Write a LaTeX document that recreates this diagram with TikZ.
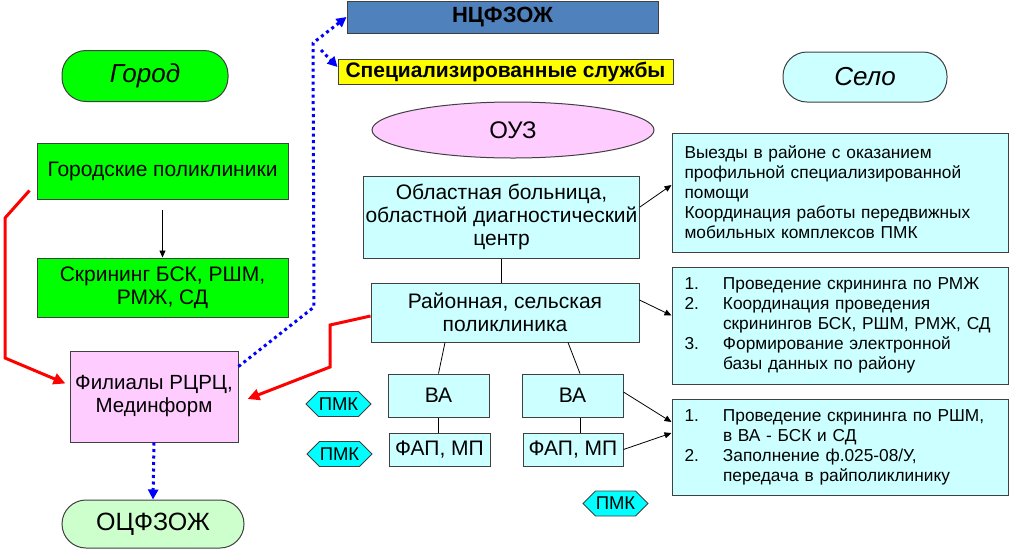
\documentclass[tikz,border=0pt]{standalone}
\usepackage{fontspec}
\setmainfont{Liberation Sans}
\usetikzlibrary{arrows.meta, shapes.geometric, shapes.symbols}

\definecolor{zelen}{RGB}{0,255,0}
\definecolor{svetlozel}{RGB}{204,255,204}
\definecolor{svetlogol}{RGB}{204,255,255}
\definecolor{goluboj}{RGB}{0,255,255}
\definecolor{rozov}{RGB}{255,204,255}
\definecolor{sinij}{RGB}{79,129,189}
\definecolor{zheltyj}{RGB}{255,255,0}

\tikzset{
  blok/.style={draw=black!75, line width=1pt, inner sep=2pt, align=center,
    font=\fontsize{21}{23}\selectfont},
  oval/.style={blok, rounded corners=24pt},
  pmk/.style={draw=black!75, line width=0.8pt, fill=goluboj, signal, signal to=west and east,
    inner sep=0pt, font=\fontsize{18.5}{20}\selectfont},
  spisok/.style={draw=black!75, line width=1pt, fill=svetlogol, text width=311pt,
    inner xsep=12.5pt, align=left, font=\fontsize{17.3}{20}\selectfont},
  strelka/.style={-{Triangle[length=7pt,width=6pt]}, line width=0.8pt},
  krasn/.style={red, line width=3pt, -{Triangle[length=12pt,width=11pt]}},
  punktir/.style={blue, line width=3pt, dash pattern=on 3pt off 3.5pt,
    -{Triangle[length=10pt,width=10pt]}}
}

\begin{document}
\begin{tikzpicture}[x=1pt, y=-1pt]
\useasboundingbox (0,0) rectangle (1010,550);

% verkh
\node[blok, fill=sinij, minimum width=311pt, minimum height=32pt,
  font=\bfseries\fontsize{22}{26}\selectfont] (ncf) at (502.5,17) {НЦФЗОЖ};
\node[blok, fill=zheltyj, minimum width=335pt, minimum height=25pt, inner sep=0pt,
  font=\bfseries\fontsize{21}{24}\selectfont] (spec) at (505.5,72) {Специализированные службы};
\node[oval, fill=zelen, minimum width=166pt, minimum height=51pt,
  font=\itshape\fontsize{26}{30}\selectfont] (gorod) at (145,76) {Город};
\node[oval, fill=svetlogol, minimum width=164pt, minimum height=50pt,
  font=\itshape\fontsize{26}{30}\selectfont] (selo) at (865,77) {Село};
\node[blok, ellipse, fill=rozov, minimum width=282pt, minimum height=56pt, inner sep=0pt,
  font=\fontsize{24}{28}\selectfont] (ouz) at (513,130) {ОУЗ};

% gorod
\node[blok, fill=zelen, minimum width=251pt, minimum height=56pt] (gp) at (162.5,171) {Городские поликлиники};
\node[blok, fill=zelen, minimum width=251pt, minimum height=59pt] (scr) at (162.5,287.5) {Скрининг БСК, РШМ,\\ РМЖ, СД};
\node[blok, fill=rozov, minimum width=168pt, minimum height=91pt,
  font=\fontsize{20.5}{23}\selectfont] (fil) at (154,396.5) {Филиалы РЦРЦ,\\ Мединформ};
\node[oval, fill=svetlozel, minimum width=182pt, minimum height=48pt,
  font=\fontsize{25}{29}\selectfont] (ocf) at (153,524) {ОЦФЗОЖ};

% selo
\node[blok, fill=svetlogol, minimum width=275pt, minimum height=82pt] (obl) at (501.5,217)
  {Областная больница,\\ областной диагностический\\ центр};
\node[blok, fill=svetlogol, minimum width=268pt, minimum height=59pt] (ray) at (505,312.5)
  {Районная, сельская\\ поликлиника};
\node[blok, fill=svetlogol, minimum width=101pt, minimum height=43pt] (va1) at (438.5,395.5) {ВА};
\node[blok, fill=svetlogol, minimum width=101pt, minimum height=33pt] (fap1) at (439.5,449.5) {ФАП, МП};
\node[blok, fill=svetlogol, minimum width=101pt, minimum height=43pt] (va2) at (572.5,395.5) {ВА};
\node[blok, fill=svetlogol, minimum width=100pt, minimum height=33pt] (fap2) at (573,449.5) {ФАП, МП};
\foreach \n/\x/\y in {1/338.5/404, 2/339.5/454, 3/615.5/503.5}
  \node[pmk, minimum width=65pt, minimum height=25pt] (pmk\n) at (\x,\y) {ПМК};

\node[spisok, minimum height=119pt] (opis1) at (840,192.5)
  {Выезды в районе с оказанием\\ профильной специализированной\\ помощи\\
   Координация работы передвижных\\ мобильных комплексов ПМК};
\node[spisok, minimum height=117pt] (opis2) at (840,325.5)
  {\begin{tabular}{@{}p{38.5pt}@{}l@{}}
   1. & Проведение скрининга по РМЖ\\
   2. & Координация проведения\\
      & скринингов БСК, РШМ, РМЖ, СД\\
   3. & Формирование электронной\\
      & базы данных по району
   \end{tabular}};
\node[spisok, minimum height=96pt] (opis3) at (840,447)
  {\begin{tabular}{@{}p{38.5pt}@{}l@{}}
   1. & Проведение скрининга по РШМ,\\
      & в ВА - БСК и СД\\
   2. & Заполнение ф.025-08/У,\\
      & передача в райполиклинику
   \end{tabular}};

% svyazi
\draw[strelka] ([yshift=-10pt]gp.south) -- (scr.north);
\draw[line width=0.8pt] (obl.south) -- (obl.south |- ray.north);
\draw[line width=0.8pt] ([xshift=-60pt]ray.south) -- (va1.north);
\draw[line width=0.8pt] ([xshift=63pt]ray.south) -- ([xshift=7.5pt]va2.north);
\draw[line width=0.8pt] (va1.south) -- (va1.south |- fap1.north);
\draw[line width=0.8pt] ([xshift=7.5pt]va2.south) -- ([xshift=7.5pt]va2.south |- fap2.north);
\draw[strelka] ([yshift=10pt]obl.east) -- ([yshift=7.5pt]opis1.west);
\draw[strelka] ([yshift=12.5pt]ray.east) -- ([yshift=10pt]opis2.west);
\draw[strelka] ([yshift=3.5pt]va2.east) -- ([yshift=25pt]opis3.west);
\draw[strelka] (fap2.east) -- ([yshift=14pt]opis3.west);

\draw[krasn] ([xshift=-7pt,yshift=9pt]gp.south west) -- (5,218) -- (5,358) -- ([xshift=-4pt,yshift=13pt]fil.west);
\draw[krasn] ([yshift=-3.5pt]ray.west) -- (330,325) -- (330,367) -- ([xshift=9pt,yshift=-2.5pt]fil.east);

\coordinate (izgib) at (313,43);
\coordinate (otvod) at (321,50);
\draw[punktir] ([yshift=-16pt]fil.north east) -- (314,307) -- (izgib) -- (ncf.west);
\draw[punktir] (otvod) -- ([yshift=5pt]spec.west);
\draw[punktir] (fil.south) -- (ocf.north);
\end{tikzpicture}
\end{document}
